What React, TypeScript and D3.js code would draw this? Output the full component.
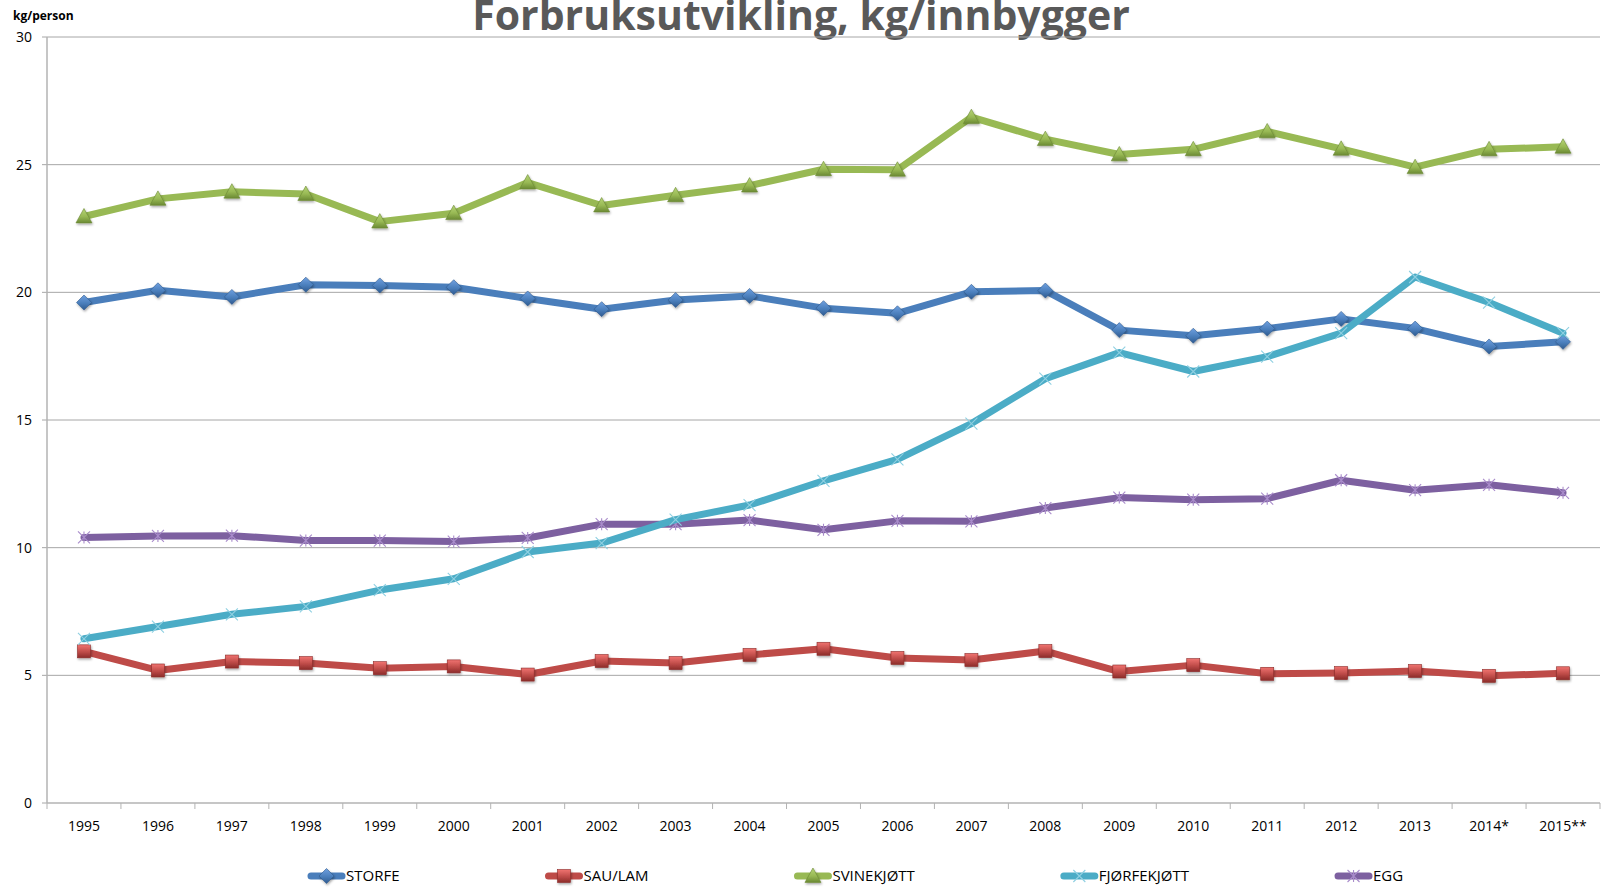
import React, {useEffect, useRef} from 'react';
import * as d3 from 'd3';

const years = ['1995', '1996', '1997', '1998', '1999', '2000', '2001', '2002', '2003', '2004', '2005',
    '2006', '2007', '2008', '2009', '2010', '2011', '2012', '2013', '2014*', '2015**'];

const storfe = [19.6, 20.08, 19.82, 20.3, 20.27, 20.2, 19.76, 19.34, 19.7, 19.86, 19.38,
    19.18, 20.02, 20.07, 18.52, 18.3, 18.58, 18.96, 18.58, 17.88, 18.06];
const sauLam = [5.94, 5.19, 5.54, 5.48, 5.28, 5.35, 5.03, 5.56, 5.48, 5.8, 6.04,
    5.68, 5.6, 5.95, 5.15, 5.4, 5.06, 5.09, 5.17, 4.98, 5.08];
const svinekjott = [22.97, 23.66, 23.94, 23.85, 22.77, 23.1, 24.3, 23.4, 23.8, 24.18, 24.82,
    24.8, 26.86, 26.0, 25.4, 25.6, 26.3, 25.62, 24.9, 25.6, 25.7];
const fjorfekjott = [6.43, 6.91, 7.39, 7.7, 8.34, 8.78, 9.83, 10.18, 11.1, 11.67, 12.62,
    13.46, 14.86, 16.62, 17.64, 16.9, 17.48, 18.4, 20.6, 19.6, 18.4];
const egg = [10.4, 10.46, 10.47, 10.28, 10.28, 10.24, 10.38, 10.92, 10.92, 11.08, 10.7,
    11.05, 11.03, 11.55, 11.96, 11.88, 11.92, 12.64, 12.25, 12.46, 12.15];

const yTicks = [0, 5, 10, 15, 20, 25, 30];

type Shape = 'diamond' | 'square' | 'triangle' | 'x' | 'star';

const series: {name: string, values: number[], color: string, light: string, dark: string, shape: Shape}[] = [
    {name: 'STORFE', values: storfe, color: '#4a7ebb', light: '#6fa0e0', dark: '#2f5a8f', shape: 'diamond'},
    {name: 'SAU/LAM', values: sauLam, color: '#be4b48', light: '#f07370', dark: '#8c2c2a', shape: 'square'},
    {name: 'SVINEKJØTT', values: svinekjott, color: '#98b954', light: '#b6d477', dark: '#6b8a34', shape: 'triangle'},
    {name: 'FJØRFEKJØTT', values: fjorfekjott, color: '#4bacc6', light: '#8fd0e2', dark: '#3590a8', shape: 'x'},
    {name: 'EGG', values: egg, color: '#7d60a0', light: '#a98ccb', dark: '#5d4480', shape: 'star'},
];

const drawOrder = [0, 1, 2, 4, 3];

const W = 1601;
const H = 889;
const M = {left: 47, right: 1600, top: 37, bottom: 803};
const FONT = '"Open Sans", "DejaVu Sans", sans-serif';

function Marker({shape, cx, cy, s}: {shape: Shape, cx: number, cy: number, s: typeof series[0]}) {
    const grad = `url(#grad-${shape})`;
    if (shape === 'diamond') {
        const r = 7.5;
        return <path d={`M${cx},${cy - r}L${cx + r},${cy}L${cx},${cy + r}L${cx - r},${cy}Z`}
                     fill={grad} stroke={s.dark} strokeWidth={0.6} filter="url(#shadow)"/>;
    }
    if (shape === 'square') {
        const r = 6.5;
        return <rect x={cx - r} y={cy - r} width={2 * r} height={2 * r}
                     fill={grad} stroke={s.dark} strokeWidth={0.6} filter="url(#shadow)"/>;
    }
    if (shape === 'triangle') {
        const r = 8;
        return <path d={`M${cx},${cy - r}L${cx + r},${cy + r * 0.8}L${cx - r},${cy + r * 0.8}Z`}
                     fill={grad} stroke={s.dark} strokeWidth={0.6} filter="url(#shadow)"/>;
    }
    const r = 6;
    const d = shape === 'x'
        ? `M${cx - r},${cy - r}L${cx + r},${cy + r}M${cx - r},${cy + r}L${cx + r},${cy - r}`
        : `M${cx - r},${cy - r}L${cx + r},${cy + r}M${cx - r},${cy + r}L${cx + r},${cy - r}M${cx},${cy - r}L${cx},${cy + r}`;
    return <path d={d} fill="none" stroke={s.light} strokeWidth={1.1}/>;
}

export default function App() {
    const legendRef = useRef<SVGGElement>(null);

    const x = d3.scaleBand().domain(years).range([M.left, M.right]);
    const y = d3.scaleLinear().domain([0, 30]).range([M.bottom, M.top]);
    const cx = (i: number) => (x(years[i]) as number) + x.bandwidth() / 2;

    const line = d3.line<number>()
        .x((d, i) => cx(i))
        .y(d => y(d));

    useEffect(() => {
        // place legend items one after the other with a fixed gap
        const g = d3.select(legendRef.current);
        let pos = 308;
        g.selectAll<SVGGElement, unknown>('g.item').each(function () {
            const item = d3.select(this);
            item.attr('transform', `translate(${pos},876)`);
            const t = item.select<SVGTextElement>('text').node();
            const w = t ? t.getComputedTextLength() : 50;
            pos += 38 + w + 146;
        });
    }, []);

    return (
        <div style={{position: 'absolute', left: 0, top: 0, width: W, height: H, background: '#fff'}}>
            <svg width={W} height={H} viewBox={`0 0 ${W} ${H}`} style={{display: 'block'}}>
                <defs>
                    {series.map(s => (
                        <linearGradient key={s.shape} id={`grad-${s.shape}`} x1="0" y1="0" x2="0" y2="1">
                            <stop offset="0%" stopColor={s.light}/>
                            <stop offset="55%" stopColor={s.color}/>
                            <stop offset="100%" stopColor={s.dark}/>
                        </linearGradient>
                    ))}
                    <filter id="shadow" x="-50%" y="-50%" width="200%" height="200%">
                        <feDropShadow dx="0.8" dy="1.5" stdDeviation="1" floodColor="#000" floodOpacity="0.35"/>
                    </filter>
                </defs>

                <text x={801} y={30} textAnchor="middle" fontFamily={FONT} fontWeight={700}
                      fontSize={41} fill="#595959">Forbruksutvikling, kg/innbygger</text>

                <text x={13} y={20} fontFamily={FONT} fontWeight={700} fontSize={12}
                      fill="#000">kg/person</text>

                {/* gridlines and y axis */}
                {yTicks.map(t => (
                    <g key={t}>
                        {t > 0 && <line x1={M.left} x2={M.right} y1={y(t)} y2={y(t)} stroke="#a6a6a6" strokeWidth={1}/>}
                        <line x1={M.left - 5} x2={M.left} y1={y(t)} y2={y(t)} stroke="#a6a6a6" strokeWidth={1}/>
                        <text x={32} y={y(t) + 5} textAnchor="end" fontFamily={FONT} fontSize={14}
                              fill="#000">{t}</text>
                    </g>
                ))}
                <line x1={M.left} x2={M.left} y1={M.top} y2={M.bottom} stroke="#b3b3b3" strokeWidth={1.5}/>
                <line x1={M.left} x2={M.right} y1={M.bottom} y2={M.bottom} stroke="#b3b3b3" strokeWidth={1.5}/>

                {/* x axis */}
                {years.map((yr, i) => (
                    <g key={yr}>
                        <line x1={x(yr) as number} x2={x(yr) as number} y1={M.bottom} y2={M.bottom + 6}
                              stroke="#b3b3b3" strokeWidth={1}/>
                        <text x={cx(i)} y={831} textAnchor="middle" fontFamily={FONT} fontSize={14}
                              fill="#000">{yr}</text>
                    </g>
                ))}
                <line x1={M.right} x2={M.right} y1={M.bottom} y2={M.bottom + 6} stroke="#b3b3b3" strokeWidth={1}/>

                {/* series */}
                {drawOrder.map(k => {
                    const s = series[k];
                    return (
                        <g key={s.name}>
                            <path d={line(s.values) || ''} fill="none" stroke={s.color} strokeWidth={7}
                                  strokeLinejoin="round" strokeLinecap="round"/>
                            {s.values.map((v, i) => (
                                <Marker key={i} shape={s.shape} cx={cx(i)} cy={y(v)} s={s}/>
                            ))}
                        </g>
                    );
                })}

                {/* legend */}
                <g ref={legendRef}>
                    {series.map(s => (
                        <g className="item" key={s.name} transform="translate(0,876)">
                            <line x1={3} x2={34} y1={0} y2={0} stroke={s.color} strokeWidth={7}
                                  strokeLinecap="round"/>
                            <Marker shape={s.shape} cx={18.5} cy={0} s={s}/>
                            <text x={38} y={5} fontFamily={FONT} fontSize={15} fill="#000">{s.name}</text>
                        </g>
                    ))}
                </g>
            </svg>
        </div>
    );
}
